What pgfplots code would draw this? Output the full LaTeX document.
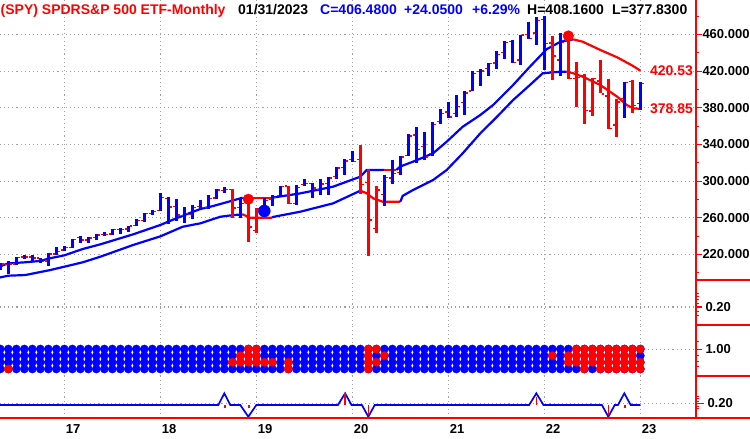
\documentclass[border=0pt]{standalone}
\usepackage{fontspec}
\setmainfont{Liberation Sans}
\usepackage{pgfplots}
\usepackage{pgfplotstable}
\pgfplotsset{compat=1.18}

\definecolor{gridgray}{RGB}{160,160,160}
\definecolor{sred}{RGB}{255,0,0}
\definecolor{sblue}{RGB}{0,0,255}

\newcommand\ttl{\fontsize{14bp}{16bp}\selectfont\bfseries}
\newcommand\tkl{\fontsize{13bp}{15bp}\selectfont\bfseries}

% monthly bars, m = months since Jan 2016 -- up-trend (blue) bars
\pgfplotstableread{
m o h l c
4 206.9 210.7 202.8 209.8
5 209.1 212.5 198.7 209.5
6 209.5 217.5 208.6 217.1
7 217.2 219.6 215.4 217.4
8 217.4 219.2 212.3 216.3
9 216.1 216.7 210.8 212.6
10 212.9 221.8 207.1 220.4
11 220.7 228.3 219.1 223.5
12 225.0 229.7 223.9 227.5
13 227.5 237.3 226.8 236.5
14 238.4 240.3 232.5 235.7
15 235.8 239.5 232.5 238.1
16 238.7 242.1 235.4 241.4
17 242.0 245.0 240.0 241.8
18 242.4 248.0 240.8 247.0
19 247.5 248.9 242.2 247.5
20 247.9 251.3 244.9 251.2
21 251.5 258.4 251.4 257.2
22 257.3 265.5 255.7 264.8
23 265.0 268.6 262.7 266.9
24 267.8 286.6 267.4 281.9
25 281.1 283.1 252.9 271.7
26 272.5 280.4 256.6 263.2
27 262.6 271.3 254.7 264.5
28 263.4 274.3 259.1 270.9
29 272.4 279.5 268.5 271.3
30 271.4 284.7 269.9 281.3
31 281.6 291.7 280.4 290.3
32 289.8 293.9 286.7 290.7
34 271.6 281.2 260.0 275.7
37 270.2 281.3 268.5 278.7
38 280.0 285.2 272.4 282.5
39 284.7 294.5 283.9 294.0
41 275.3 296.3 274.1 293.0
42 296.7 302.2 294.3 297.4
43 297.6 297.9 281.7 292.5
44 290.6 302.5 284.8 296.8
45 297.7 304.6 284.8 303.3
46 304.9 315.5 302.9 314.3
47 314.6 323.8 307.1 321.9
48 323.5 333.0 320.4 321.7
52 285.3 306.8 273.0 304.3
53 303.6 323.4 296.7 308.4
54 309.6 327.2 306.7 326.5
55 328.3 351.3 327.7 349.3
56 350.4 358.8 319.8 334.9
57 337.7 354.0 322.6 326.5
58 330.2 364.4 327.2 362.1
59 365.0 378.5 362.0 373.9
60 375.3 385.9 369.3 370.1
61 373.7 394.2 370.4 381.4
62 385.6 398.0 371.9 396.3
63 398.4 420.7 398.2 417.3
64 419.4 422.8 404.0 420.0
65 422.6 428.8 414.7 428.1
66 428.9 441.8 422.0 438.5
67 440.3 453.1 433.7 451.6
68 452.6 454.1 428.8 429.1
69 432.0 459.6 426.4 459.3
70 460.3 473.5 455.4 455.6
71 461.6 479.0 448.9 475.0
72 476.3 480.0 420.8 449.9
74 432.0 462.1 415.1 451.6
82 390.1 407.7 368.8 407.7
84 384.4 408.2 377.8 406.5
}\barsup

% down-trend (red) bars
\pgfplotstableread{
m o h l c
33 291.2 291.9 259.9 270.6
35 280.3 280.4 233.8 249.9
36 246.0 270.5 244.0 269.9
40 294.7 295.0 275.3 275.3
49 323.4 339.1 285.5 296.3
50 298.2 313.8 218.3 257.8
51 248.0 294.9 243.9 290.5
73 450.7 458.1 410.6 436.6
75 453.3 457.8 411.2 412.0
76 412.1 429.7 380.5 412.9
77 415.2 417.4 362.2 377.3
78 376.6 413.0 371.0 412.0
79 409.2 431.7 396.0 395.2
80 392.9 411.7 357.0 357.2
81 361.1 389.5 348.1 386.2
83 409.0 410.5 374.8 382.4
}\barsdn

\pgfplotsset{
  panel/.style={
    scale only axis, width=696bp,
    xmin=3.96, xmax=90.96,
    anchor=north west,
    axis line style={draw=none},
    xtick={12,24,36,48,60,72,84},
    xticklabels={},
    xtick style={draw=none},
    xmajorgrids, ymajorgrids,
    major grid style={draw=gridgray, line width=1.1bp, dash pattern=on 1.1bp off 3bp},
    ytick pos=right, yticklabel pos=right,
    tick align=outside,
    ytick style={sred, line width=1.1bp},
    minor y tick style={sred, line width=1bp},
    major tick length=6bp, minor tick length=3bp,
    yticklabel style={font=\tkl, anchor=west, inner sep=0bp, xshift=0.3bp},
    /pgf/number format/assume math mode=true,
    clip=true,
  },
  hl/.style={draw=none, mark=none, forget plot,
    error bars/.cd, y dir=minus, y explicit, error mark=none,
    error bar style={draw=#1, line width=2.6bp}},
  band/.style={#1, line width=2.2bp, mark=none},
  dotrow/.style={only marks, mark=*, mark size=4.1bp},
  octick/.style={sred, only marks, mark=-, mark size=1.1bp, mark options={xshift=#1, line width=1.3bp}},
}

\begin{document}
\begin{tikzpicture}
\useasboundingbox (0,0) rectangle (750bp,-439bp);
\clip (0,0) rectangle (750bp,-439bp);

% ---------------- price panel
\begin{axis}[panel, at={(0bp,0bp)}, height=280bp,
    ymin=192.2, ymax=497.6,
    ytick={220,260,...,460},
    minor ytick={200,240,...,480},
    yticklabel style={/pgf/number format/.cd, fixed, fixed zerofill, precision=3, 1000 sep={}},
]
% bands
\addplot[band=sblue] coordinates {(3.96,207) (5,210.4) (7.1,211.5) (9,213) (10.2,215.9) (12,219.1) (14.3,226) (16.5,231.1) (20.6,242) (24,252.2) (26,259.5) (28.1,266.7) (29,269.6) (30.6,272.9) (33.1,279) (34.3,282)};
\addplot[band=sred] coordinates {(34.3,282) (38,282)};
\addplot[band=sblue] coordinates {(38,282) (41.5,286.7) (45.6,294) (49,304.9) (49.8,312.2) (52,312.2)};
\addplot[band=sred] coordinates {(52,312.2) (53.5,312.2)};
\addplot[band=sblue] coordinates {(53.5,312.2) (54,316) (55.6,321.3) (58.1,330.4) (59.8,343.1) (61.8,359.4) (64,372.2) (65.6,383.1) (68.1,404.9) (70.2,424.9) (72.3,444) (74,452) (75.6,454.7)};
\addplot[band=sred] coordinates {(75.6,454.7) (76.8,452.1) (79,443.1) (81.1,435.1) (83.1,425.6) (84,420.53)};

\addplot[band=sblue] coordinates {(3.96,195) (5,196.9) (7.1,197.6) (10.2,203) (12,206.7) (14.3,211.5) (16.5,217.6) (20.6,230.4) (24,239.8) (26.8,250.3) (29,254) (31.5,261.2) (33.1,263) (34.3,263.8)};
\addplot[band=sred] coordinates {(34.3,263.8) (35.2,260.2) (38,260.2)};
\addplot[band=sblue] coordinates {(38,260.2) (38.1,261) (41.5,266.7) (45.6,275.8) (49,289.6)};
\addplot[band=sred] coordinates {(49,289.6) (49.8,286.8) (50.6,281.3) (51.8,277.6) (54,277.6)};
\addplot[band=sblue] coordinates {(54,277.6) (54.3,284) (55.6,290.4) (58.1,301.3) (59.8,312.2) (61.8,330.4) (64,352.2) (66.1,370.4) (68.1,388.5) (70.2,404.9) (71.8,417.7) (74,419.4) (74.8,419.4)};
\addplot[band=sred] coordinates {(74.8,419.4) (75.6,417.7) (76.8,414) (79,404.9) (81.1,392.2) (82.3,383.1) (83.1,379.5) (84,378.85)};

% high-low bars
\addplot[hl=sblue] table[x=m, y=h, y error expr=\thisrow{h}-\thisrow{l}] \barsup;
\addplot[hl=sred] table[x=m, y=h, y error expr=\thisrow{h}-\thisrow{l}] \barsdn;
% open / close ticks
\addplot[octick=-2.4bp] table[x=m, y=o] \barsup;
\addplot[octick=2.4bp] table[x=m, y=c] \barsup;
\addplot[octick=-2.4bp] table[x=m, y=o] \barsdn;
\addplot[octick=2.4bp] table[x=m, y=c] \barsdn;

% signal circles
\addplot[sred, only marks, mark=*, mark size=5.3bp] coordinates {(35,280.3) (75,458.4)};
\addplot[sblue, only marks, mark=*, mark size=6bp] coordinates {(37,267.5)};

\node[anchor=east, text=sred, font=\ttl, inner sep=0bp] at (axis cs:90.6,420.53) {420.53};
\node[anchor=east, text=sred, font=\ttl, inner sep=0bp] at (axis cs:90.6,378.85) {378.85};
\end{axis}

% ---------------- empty panel
\begin{axis}[panel, at={(0bp,-280bp)}, height=45bp,
    ymin=0, ymax=45, ytick={18}, yticklabels={0.20},
    minor ytick={10,14,22,26,29,32},
    yticklabel style={xshift=3bp},
]
\addplot[draw=none] coordinates {(10,0)};
\end{axis}

% ---------------- dot panel: four rows, blue everywhere, red cells on top
\begin{axis}[panel, at={(0bp,-325bp)}, height=51bp,
    ymin=0, ymax=51, ytick={26.7}, yticklabels={1.00},
    minor ytick={10,15,21,34.3},
    yticklabel style={xshift=3bp},
]
\addplot[dotrow, sblue] table[x=m, y expr=27] \barsup;
\addplot[dotrow, sblue] table[x=m, y expr=27] \barsdn;
\addplot[dotrow, sblue] table[x=m, y expr=20.3] \barsup;
\addplot[dotrow, sblue] table[x=m, y expr=20.3] \barsdn;
\addplot[dotrow, sblue] table[x=m, y expr=13.7] \barsup;
\addplot[dotrow, sblue] table[x=m, y expr=13.7] \barsdn;
\addplot[dotrow, sblue] table[x=m, y expr=7] \barsup;
\addplot[dotrow, sblue] table[x=m, y expr=7] \barsdn;
% red cells, row by row
\addplot[dotrow, sred] coordinates {(35,27) (36,27) (50,27) (51,27) (76,27) (77,27) (78,27) (79,27) (80,27) (81,27) (82,27) (83,27) (84,27)};
\addplot[dotrow, sred] coordinates {(34,20.3) (35,20.3) (36,20.3) (50,20.3) (52,20.3) (73,20.3) (75,20.3) (76,20.3) (77,20.3) (78,20.3) (79,20.3) (80,20.3) (81,20.3) (82,20.3) (83,20.3)};
\addplot[dotrow, sred] coordinates {(33,13.7) (34,13.7) (35,13.7) (36,13.7) (37,13.7) (38,13.7) (40,13.7) (50,13.7) (51,13.7) (75,13.7) (76,13.7) (77,13.7) (78,13.7) (79,13.7) (80,13.7) (81,13.7) (82,13.7) (83,13.7) (84,13.7)};
\addplot[dotrow, sred] coordinates {(5,7) (40,7) (50,7) (77,7) (79,7) (80,7) (81,7) (82,7) (83,7) (84,7)};
\end{axis}

% ---------------- signal line panel
\begin{axis}[panel, at={(0bp,-376bp)}, height=42bp,
    ymin=-1.11, ymax=2.48, ytick={0.145}, yticklabels={0.20},
    minor ytick={-0.34,-0.09,0.34,0.56,0.77},
    yticklabel style={xshift=3bp},
    xticklabels={17,18,19,20,21,22,23},
    xtick style={sred, line width=1.1bp},
    major tick length=8bp,
    xticklabel style={font=\tkl, anchor=north west, inner sep=0bp, xshift=1.4bp, yshift=2bp},
]
\addplot[sblue, line width=1.7bp, mark=none] coordinates {
  (3.96,0) (31.25,0) (32,1) (32.75,0) (34,0) (35,-1) (36,0) (46.2,0) (47.1,1) (47.9,0)
  (49.2,0) (50,-1) (50.8,0) (70.1,0) (71,1) (71.9,0) (79.2,0) (80,-1) (80.8,0)
  (81.2,0) (82,1) (82.8,0) (84,0)};
\addplot[sred, line width=1.5bp, ycomb, mark=none] coordinates {(47.1,1) (50,-0.85) (71,0.7) (80,-0.85)};
\addplot[sred, only marks, mark=square*, mark size=0.6bp] coordinates {(32,-0.1) (35,-0.1) (82,-0.1)};
\end{axis}

% axis frame
\draw[sred, line width=1.2bp] (696bp,0) -- (696bp,-418bp);
\draw[sred, line width=1.2bp] (696bp,-280bp) -- (750bp,-280bp);
\draw[sred, line width=1.2bp] (696bp,-325bp) -- (750bp,-325bp);
\draw[sred, line width=1.2bp] (696bp,-376bp) -- (750bp,-376bp);
\draw[sred, line width=1.2bp] (0bp,-418bp) -- (750bp,-418bp);

% header line
\node[anchor=base west, inner sep=0bp, font=\ttl, text=sred] at (0.5bp,-14bp) {(SPY) SPDRS\&P 500 ETF-Monthly};
\node[anchor=base west, inner sep=0bp, font=\ttl, text=black] at (238bp,-14bp) {01/31/2023};
\node[anchor=base west, inner sep=0bp, font=\ttl, text=sblue] at (320bp,-14bp) {C=406.4800};
\node[anchor=base west, inner sep=0bp, font=\ttl, text=sblue] at (404bp,-14bp) {+24.0500};
\node[anchor=base west, inner sep=0bp, font=\ttl, text=sblue] at (472bp,-14bp) {+6.29\%};
\node[anchor=base west, inner sep=0bp, font=\ttl, text=black] at (527bp,-14bp) {H=408.1600};
\node[anchor=base west, inner sep=0bp, font=\ttl, text=black] at (612bp,-14bp) {L=377.8300};
\end{tikzpicture}
\end{document}
